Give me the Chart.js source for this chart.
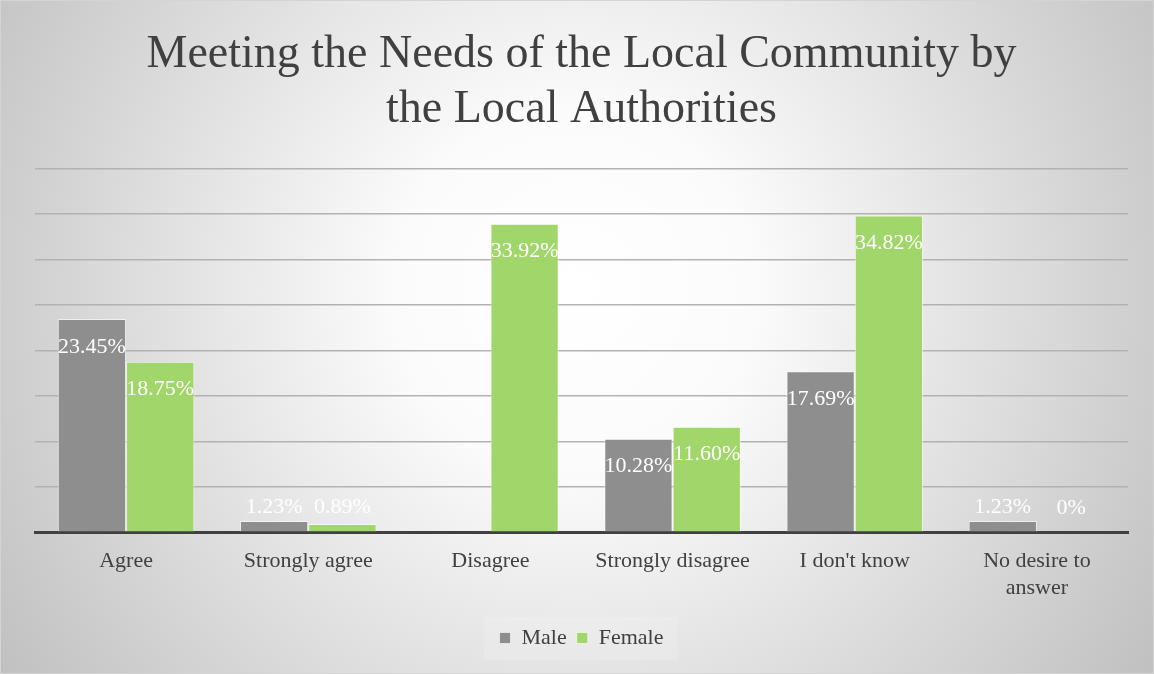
<!DOCTYPE html>
<html>
<head>
<meta charset="utf-8">
<script src="https://cdn.jsdelivr.net/npm/chart.js@4.4.1/dist/chart.umd.min.js"></script>
<style>
  html, body { margin: 0; padding: 0; background: #fff; }
  #wrap { width: 1154px; height: 674px; position: relative; }
</style>
</head>
<body>
<div id="wrap"><canvas id="chart" width="1154" height="674"></canvas></div>
<script>
const categories = ['Agree', 'Strongly agree', 'Disagree', 'Strongly disagree', "I don't know", ['No desire to', 'answer']]
const maleValues = [23.45, 1.23, null, 10.28, 17.69, 1.23]
const femaleValues = [18.75, 0.89, 33.92, 11.60, 34.82, 0]
const titleLines = ['Meeting the Needs of the Local Community by', 'the Local Authorities']

const serif = '"Liberation Serif", "Times New Roman", serif'

// radial grey background like the original
const bgPlugin = {
  id: 'bg',
  beforeDraw(chart) {
    const ctx = chart.ctx
    const w = chart.width, h = chart.height
    ctx.save()
    let g = ctx.createRadialGradient(575, 290, 0, 575, 290, 720)
    g.addColorStop(0, '#ffffff')
    g.addColorStop(0.25, '#fbfbfb')
    g.addColorStop(1, '#bdbdbd')
    ctx.fillStyle = g
    ctx.fillRect(0, 0, w, h)
    ctx.strokeStyle = '#d4d4d4'
    ctx.lineWidth = 1
    ctx.strokeRect(0.5, 0.5, w - 1, h - 1)

    // faint box behind the legend
    const lg = chart.legend
    if (lg && lg.legendHitBoxes && lg.legendHitBoxes.length) {
      const hb = lg.legendHitBoxes
      const x0 = Math.min(...hb.map(b => b.left)) - 16
      const x1 = Math.max(...hb.map(b => b.left + b.width)) + 14
      const yc = hb[0].top + hb[0].height / 2
      ctx.fillStyle = 'rgba(255,255,255,0.15)'
      ctx.fillRect(x0, yc - 21, x1 - x0, 43)
    }
    ctx.restore()
  }
}

// value labels on the bars
const labelPlugin = {
  id: 'barLabels',
  afterDatasetsDraw(chart) {
    const ctx = chart.ctx
    ctx.save()
    ctx.font = '22px ' + serif
    ctx.fillStyle = '#ffffff'
    ctx.textAlign = 'center'
    ctx.textBaseline = 'middle'
    chart.data.datasets.forEach((ds, i) => {
      const meta = chart.getDatasetMeta(i)
      meta.data.forEach((bar, j) => {
        const v = ds.data[j]
        if (v === null || v === undefined) return
        const txt = (v === 0 ? '0' : v.toFixed(2)) + '%'
        const hgt = bar.base - bar.y
        const y = hgt > 40 ? bar.y + 28 : bar.base - 24
        ctx.fillText(txt, bar.x, y)
      })
    })
    ctx.restore()
  }
}

new Chart(document.getElementById('chart'), {
  type: 'bar',
  data: {
    labels: categories,
    datasets: [
      {
        label: 'Male',
        data: maleValues,
        backgroundColor: '#8e8e8e',
        borderColor: 'rgba(255,255,255,0.6)',
        borderWidth: 1
      },
      {
        label: 'Female',
        data: femaleValues,
        backgroundColor: '#a1d66a',
        borderColor: 'rgba(255,255,255,0.6)',
        borderWidth: 1
      }
    ]
  },
  options: {
    responsive: false,
    animation: false,
    layout: { padding: { left: 35, right: 26, top: 2, bottom: 15 } },
    datasets: { bar: { categoryPercentage: 0.75, barPercentage: 1 } },
    scales: {
      x: {
        grid: { display: false, drawTicks: false },
        border: { display: true, color: '#404040', width: 3 },
        ticks: { color: '#404040', font: { family: serif, size: 22, lineHeight: 1.2 }, padding: 16, maxRotation: 0 }
      },
      y: {
        min: 0,
        max: 40,
        ticks: { display: false, stepSize: 5 },
        grid: { color: '#b2b2b2', lineWidth: 1.5, drawTicks: false },
        border: { display: false }
      }
    },
    plugins: {
      title: {
        display: true,
        text: titleLines,
        color: '#404040',
        font: { family: serif, size: 46, weight: 'normal', lineHeight: 1.2 },
        padding: { top: 25, bottom: 31 }
      },
      legend: {
        position: 'bottom',
        labels: {
          color: '#404040',
          font: { family: serif, size: 22 },
          boxWidth: 11,
          boxHeight: 11,
          padding: 10
        }
      },
      tooltip: { enabled: false }
    }
  },
  plugins: [bgPlugin, labelPlugin]
})
</script>
</body>
</html>
